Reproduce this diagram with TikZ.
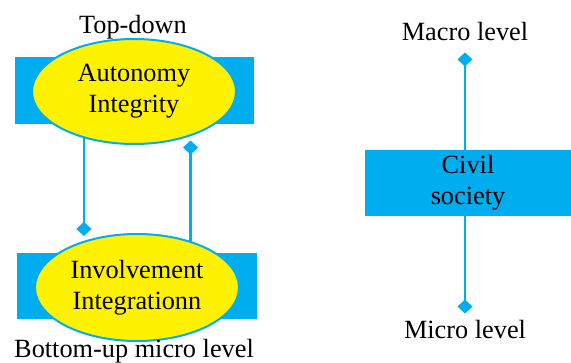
\documentclass[tikz,border=0pt]{standalone}
\usepackage{fontspec}
\setmainfont{Liberation Serif}
\usetikzlibrary{arrows.meta,shapes.geometric}
\definecolor{cyanb}{HTML}{00AEEF}
\definecolor{yel}{HTML}{FFF200}
\begin{document}
\begin{tikzpicture}[x=1pt,y=-1pt,
  lbl/.style={font=\fontsize{26.3}{31}\selectfont, inner sep=0pt, align=center},
  band/.style={fill=cyanb, draw=none, inner sep=0pt},
  oval/.style={ellipse, fill=yel, draw=cyanb, line width=2pt, inner sep=0pt, align=center, font=\fontsize{26.3}{31}\selectfont},
  conn/.style={draw=cyanb, line width=2.7pt},
  dtip/.style={-{Diamond[width=15pt,length=14pt]}}
]
\useasboundingbox (0,0) rectangle (571,362);
% left column
\node[band, minimum width=239pt, minimum height=67pt] (topband) at (134.5,90.5) {};
\node[oval, minimum width=204pt, minimum height=105pt] (topell) at (134,91.5) {Autonomy\\Integrity};
\node[band, minimum width=240pt, minimum height=66pt] (botband) at (137,286) {};
\node[oval, minimum width=204pt, minimum height=107pt] (botell) at (137,287.5) {Involvement\\Integrationn};
\node[lbl, anchor=base] (topdown) at (133,33) {Top-down};
\node[lbl, anchor=base] (bottomup) at (134,357) {Bottom-up micro level};
\draw[conn, dtip, shorten >=5pt] (topell.223) -- (topell.223 |- botell.139);
\draw[conn, dtip, shorten >=4pt] (botell.41) -- (botell.41 |- topell.321.5);
% right column
\node[band, minimum width=206pt, minimum height=66pt, font=\fontsize{26.3}{31}\selectfont, align=center] (civ) at (468,183) {Civil\\society};
\node[lbl, anchor=base] (macro) at (465,40) {Macro level};
\node[lbl, anchor=base] (micro) at (465,338) {Micro level};
\draw[conn, dtip, shorten >=12pt] (civ.north -| macro.south) -- (macro.south);
\draw[conn, dtip, shorten >=6pt] (civ.south -| micro.north) -- (micro.north);
\end{tikzpicture}
\end{document}
